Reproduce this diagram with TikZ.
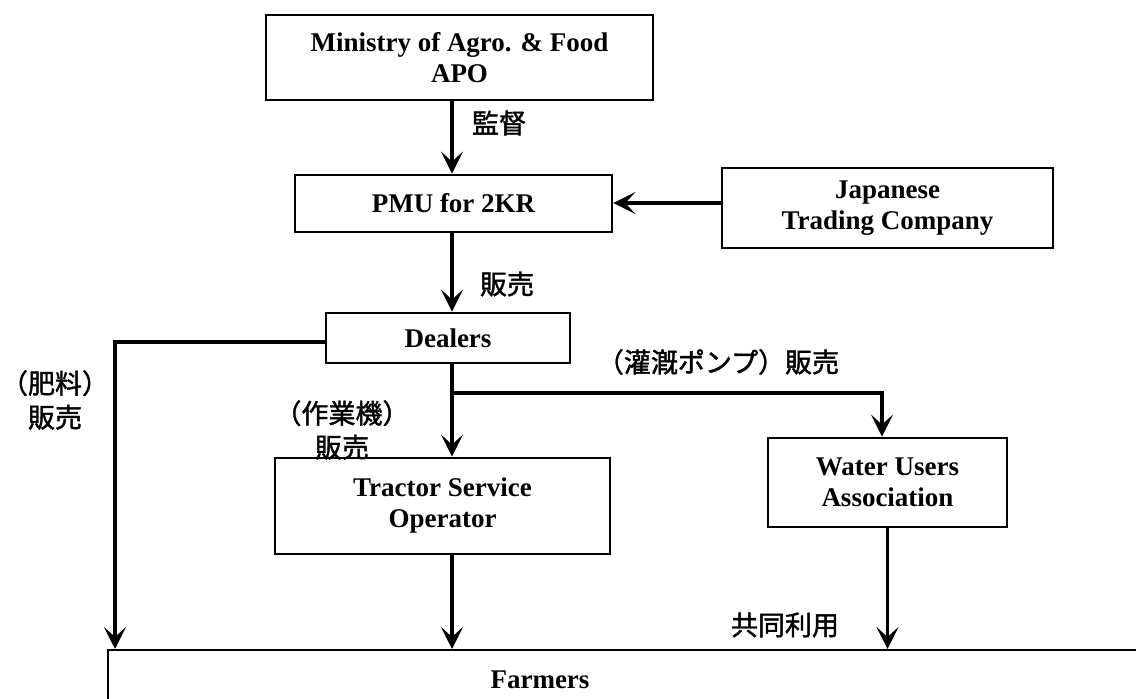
\documentclass[tikz,border=0pt]{standalone}
\usepackage{fontspec}
\setmainfont{Liberation Serif}
\newfontfamily\jp[FakeBold=1.5]{Noto Sans CJK JP}
\usetikzlibrary{arrows.meta}
\begin{document}
\begin{tikzpicture}[x=0.5pt,y=-0.5pt,
  box/.style={draw, line width=1.4pt, inner sep=0pt, align=center,
    font=\fontsize{13.5}{15.5}\selectfont\bfseries},
  arr/.style={line width=1.6pt, -{Stealth[length=11pt,width=11pt,inset=5pt]}},
  jl/.style={font=\jp\fontsize{13.5}{17}\selectfont, inner sep=0pt, align=center}]
\useasboundingbox (0,0) rectangle (1136,699);
\begin{scope}
\clip (0,0) rectangle (1136,699);
% boxes
\node[box, minimum width=193.5pt, minimum height=42.5pt] (mini) at (459.5,57.5) {Ministry of Agro. \& Food\\APO};
\node[box, minimum width=158.5pt, minimum height=28.5pt] (pmu) at (453.5,203.5) {PMU for 2KR};
\node[box, minimum width=165.5pt, minimum height=40pt] (jtc) at (887.5,208) {Japanese\\Trading Company};
\node[box, minimum width=122pt, minimum height=25pt] (deal) at (448,338) {Dealers};
\node[box, minimum width=167.5pt, minimum height=48pt] (tract) at (442.5,506) {Tractor Service\\Operator};
\node[box, minimum width=119.5pt, minimum height=44.5pt] (water) at (887.5,482.5) {Water Users\\Association};
\node[box, line width=1.1pt, anchor=north west, minimum width=560pt, minimum height=60pt] (farm) at (107,649) {};
\node[font=\fontsize{13.5}{15.5}\selectfont\bfseries] (farmtxt) at (540,680) {Farmers};
% axis coordinates
\coordinate (ax) at (452,0);
\coordinate (br) at (452,393);
\coordinate (fl) at (115,649);
% connectors
\draw[arr] (mini.south -| ax) -- (pmu.north -| ax);
\draw[arr] (jtc.west |- 0,203) -- (pmu.east |- 0,203);
\draw[arr] (pmu.south -| ax) -- (deal.north -| ax);
\draw[arr] (deal.west |- 0,342) -| (fl);
\draw[arr] (deal.south -| ax) -- (tract.north -| ax);
\draw[arr] (br) -| (water.north -| 882,0);
\draw[arr] (tract.south -| ax) -- (farm.north -| ax);
\draw[arr] (water.south) -- (water.south |- farm.north);
% labels
\node[jl] (l1) at (499,123) {監督};
\node[jl] (l2) at (507,284) {販売};
\node[jl] (l3) at (55,400) {（肥料）\\販売};
\node[jl] (l4) at (342,430) {（作業機）\\販売};
\node[jl] (l5) at (718,362) {（灌漑ポンプ）販売};
\node[jl] (l6) at (785,625) {共同利用};
\end{scope}
\end{tikzpicture}
\end{document}
